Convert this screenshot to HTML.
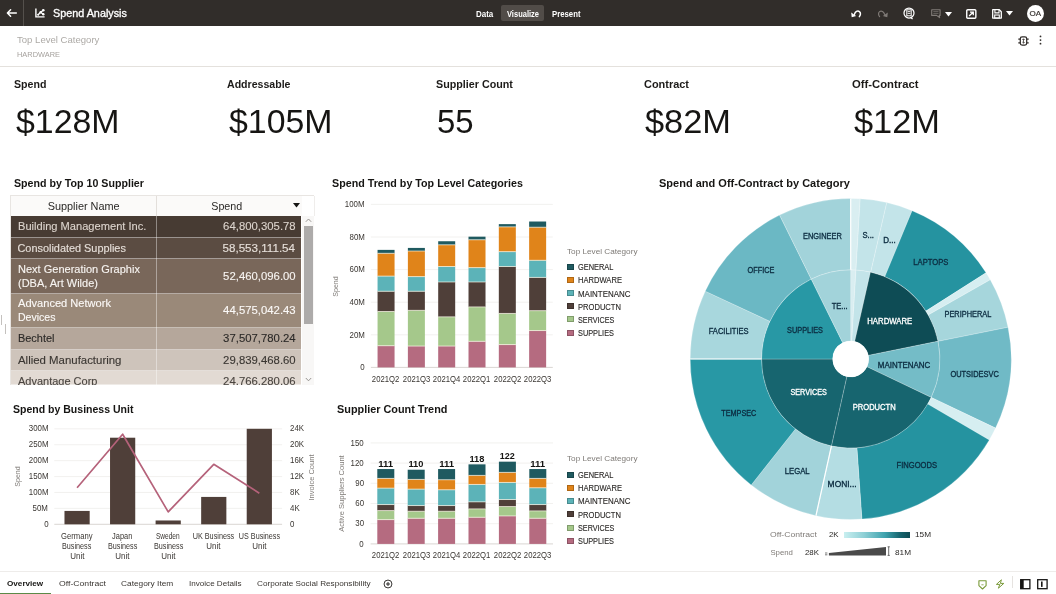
<!DOCTYPE html>
<html lang="en"><head><meta charset="utf-8"><title>Spend Analysis</title>
<style>
html,body{margin:0;padding:0;}
body{width:1056px;height:594px;overflow:hidden;background:#fff;position:relative;font-family:"Liberation Sans",sans-serif;}
.t{position:absolute;white-space:nowrap;display:block;}
.abs{position:absolute;}
svg{position:absolute;overflow:visible;}
#app{position:absolute;left:0;top:0;width:1056px;height:594px;will-change:transform;}
</style></head><body>
<div id="app">
<div class="abs" id="topbar" style="left:0;top:0;width:1056px;height:25.5px;background:#312d2a;"></div>
<div class="abs" style="left:22.7px;top:0;width:1.4px;height:25.5px;background:#54504c;"></div>
<svg style="left:6px;top:7.8px" width="11" height="10" viewBox="0 0 11 10"><path d="M10.3 5H1.8M4.6 1.8L1.4 5L4.6 8.2" fill="none" stroke="#fff" stroke-width="1.5" stroke-linecap="round" stroke-linejoin="round"/></svg>
<svg style="left:34.5px;top:8px" width="10" height="10" viewBox="0 0 10 10"><path d="M0.9 0.5V8.9H9.6" fill="none" stroke="#fff" stroke-width="1.4"/><path d="M2.9 7L5.6 4.2L8.3 2.2M5.6 4.2L8.3 6.3" fill="none" stroke="#fff" stroke-width="1.3"/><circle cx="8.3" cy="2.2" r="1.3" fill="#fff"/><circle cx="5.7" cy="4.2" r="1.25" fill="#fff"/><circle cx="8.3" cy="6.3" r="1.2" fill="#fff"/><circle cx="3.1" cy="6.8" r="1" fill="#fff"/></svg>
<span class="t" style="left:52.50px;transform-origin:0 50%;top:8px;font-size:10.2px;line-height:11px;color:#fff;transform:scaleX(1.0610);-webkit-text-stroke:0.3px #fff;">Spend Analysis</span>
<div class="abs" style="left:501px;top:5px;width:43px;height:15.5px;background:#514c48;border-radius:2px;"></div>
<span class="t" style="left:475.50px;transform-origin:0 50%;top:9px;font-size:8.3px;line-height:10px;color:#fff;font-weight:700;transform:scaleX(0.9616);">Data</span>
<span class="t" style="left:506.50px;transform-origin:0 50%;top:9px;font-size:8.3px;line-height:10px;color:#fff;font-weight:700;transform:scaleX(0.9046);">Visualize</span>
<span class="t" style="left:551.60px;transform-origin:0 50%;top:9px;font-size:8.3px;line-height:10px;color:#fff;font-weight:700;transform:scaleX(0.9360);">Present</span>
<svg style="left:850px;top:8px" width="12" height="11" viewBox="0 0 12 11"><path d="M4.4 6.4C5.2 3.6 7.6 2.2 9.4 3.6C11 4.9 10.6 7.2 9.4 8.6" fill="none" stroke="#fff" stroke-width="1.5" stroke-linecap="round"/><path d="M1.2 4.4L1.7 9.2L6.2 8Z" fill="#fff"/></svg>
<svg style="left:876.5px;top:8px" width="12" height="11" viewBox="0 0 12 11"><g transform="translate(12,0) scale(-1,1)"><path d="M4.4 6.4C5.2 3.6 7.6 2.2 9.4 3.6C11 4.9 10.6 7.2 9.4 8.6" fill="none" stroke="#807b77" stroke-width="1.2" stroke-linecap="round"/><path d="M1.2 4.4L1.7 9.2L6.2 8Z" fill="#807b77"/></g></svg>
<svg style="left:902.2px;top:6.1px" width="14" height="14" viewBox="0 0 14 14"><circle cx="7" cy="7" r="5" fill="none" stroke="#fff" stroke-width="1.25"/><rect x="4.8" y="3.8" width="4.4" height="6" fill="none" stroke="#fff" stroke-width="1"/><path d="M5.6 5.6H8.4M5.6 7.4H8.4" stroke="#fff" stroke-width="0.9"/><path d="M8.6 11.4L10.6 12.9" stroke="#fff" stroke-width="1.2"/></svg>
<svg style="left:930.5px;top:9px" width="10" height="10" viewBox="0 0 10 10"><path d="M0.7 0.7H9.1V6.4H8.2L8.6 8.6L5.6 6.4H0.7Z" fill="none" stroke="#807b77" stroke-width="1.1" stroke-linejoin="round"/><path d="M2.3 2.6H7.5M2.3 4.4H7.5" stroke="#807b77" stroke-width="0.7"/></svg>
<svg style="left:944.5px;top:11.5px" width="7" height="5" viewBox="0 0 7 5"><path d="M0 0H7L3.5 4.6Z" fill="#fff"/></svg>
<svg style="left:965.8px;top:8.5px" width="10.6" height="10" viewBox="0 0 10.6 10"><rect x="0.75" y="0.75" width="9.1" height="8.5" rx="1" fill="none" stroke="#fff" stroke-width="1.4"/><path d="M3.1 7L7.1 3.2M4 3.1H7.3V6.2" fill="none" stroke="#fff" stroke-width="1.3"/></svg>
<svg style="left:992.4px;top:8.7px" width="10" height="10" viewBox="0 0 10 10"><path d="M0.7 0.7H7.3L9.3 2.7V9.1H0.7Z" fill="none" stroke="#fff" stroke-width="1.3" stroke-linejoin="round"/><path d="M2.9 0.9V3.9H7V0.9" fill="none" stroke="#fff" stroke-width="1.1"/><rect x="2.7" y="6" width="4.6" height="3" fill="none" stroke="#fff" stroke-width="1.1"/></svg>
<svg style="left:1006.3px;top:11.2px" width="7" height="5" viewBox="0 0 7 5"><path d="M0 0H7L3.5 4.6Z" fill="#fff"/></svg>
<div class="abs" style="left:1026.6px;top:4.9px;width:17.4px;height:17.4px;border-radius:50%;background:#fff;"></div>
<span class="t" style="left:1030.10px;transform-origin:50% 50%;top:9px;font-size:7.2px;line-height:9px;color:#312d2a;transform:scaleX(1.1151);-webkit-text-stroke:0.15px #312d2a;">OA</span>
<div class="abs" style="left:0;top:66px;width:1056px;height:1px;background:#e4e1dd;"></div>
<span class="t" style="left:17.00px;transform-origin:0 50%;top:35px;font-size:9.2px;line-height:10px;color:#adaaa6;transform:scaleX(1.0407);">Top Level Category</span>
<span class="t" style="left:17.00px;transform-origin:0 50%;top:50px;font-size:7.6px;line-height:9px;color:#a5a19d;transform:scaleX(0.9761);">HARDWARE</span>
<svg style="left:1018.2px;top:35.6px" width="11" height="10" viewBox="0 0 11 10"><rect x="2.3" y="0.9" width="6.4" height="8.2" rx="1.8" fill="none" stroke="#312d2a" stroke-width="1.25"/><path d="M0.3 3.2H2.3M0.3 6.8H2.3M8.7 3.2H10.7M8.7 6.8H10.7" stroke="#312d2a" stroke-width="1.2"/><path d="M5.5 2.8V7.2M4.3 4L5.5 2.8L6.7 4M4.3 6L5.5 7.2L6.7 6" fill="none" stroke="#312d2a" stroke-width="0.75"/></svg>
<svg style="left:1039.4px;top:35px" width="3" height="10" viewBox="0 0 3 10"><circle cx="1.5" cy="1.4" r="0.9" fill="#312d2a"/><circle cx="1.5" cy="5.1" r="0.9" fill="#312d2a"/><circle cx="1.5" cy="8.7" r="0.9" fill="#312d2a"/></svg>
<span class="t" style="left:13.50px;transform-origin:0 50%;top:79px;font-size:10.4px;line-height:11px;color:#1d1b19;font-weight:700;transform:scaleX(1.0227);">Spend</span>
<span class="t" style="left:16.00px;transform-origin:0 50%;top:104px;font-size:32.4px;line-height:36px;color:#161513;transform:scaleX(1.0447);">$128M</span>
<span class="t" style="left:226.50px;transform-origin:0 50%;top:79px;font-size:10.4px;line-height:11px;color:#1d1b19;font-weight:700;transform:scaleX(1.0172);">Addressable</span>
<span class="t" style="left:229.00px;transform-origin:0 50%;top:104px;font-size:32.4px;line-height:36px;color:#161513;transform:scaleX(1.0447);">$105M</span>
<span class="t" style="left:435.50px;transform-origin:0 50%;top:79px;font-size:10.4px;line-height:11px;color:#1d1b19;font-weight:700;transform:scaleX(1.0332);">Supplier Count</span>
<span class="t" style="left:436.70px;transform-origin:0 50%;top:104px;font-size:32.4px;line-height:36px;color:#161513;transform:scaleX(1.0155);">55</span>
<span class="t" style="left:643.50px;transform-origin:0 50%;top:79px;font-size:10.4px;line-height:11px;color:#1d1b19;font-weight:700;transform:scaleX(1.0524);">Contract</span>
<span class="t" style="left:645.00px;transform-origin:0 50%;top:104px;font-size:32.4px;line-height:36px;color:#161513;transform:scaleX(1.0611);">$82M</span>
<span class="t" style="left:852.00px;transform-origin:0 50%;top:79px;font-size:10.4px;line-height:11px;color:#1d1b19;font-weight:700;transform:scaleX(1.0859);">Off-Contract</span>
<span class="t" style="left:854.00px;transform-origin:0 50%;top:104px;font-size:32.4px;line-height:36px;color:#161513;transform:scaleX(1.0611);">$12M</span>
<span class="t" style="left:13.70px;transform-origin:0 50%;top:177px;font-size:10.6px;line-height:12px;color:#161513;font-weight:700;transform:scaleX(1.0048);">Spend by Top 10 Supplier</span>
<span class="t" style="left:331.60px;transform-origin:0 50%;top:177px;font-size:10.6px;line-height:12px;color:#161513;font-weight:700;transform:scaleX(1.0112);">Spend Trend by Top Level Categories</span>
<span class="t" style="left:658.50px;transform-origin:0 50%;top:177px;font-size:10.6px;line-height:12px;color:#161513;font-weight:700;transform:scaleX(1.0395);">Spend and Off-Contract by Category</span>
<span class="t" style="left:13.40px;transform-origin:0 50%;top:403px;font-size:10.6px;line-height:12px;color:#161513;font-weight:700;transform:scaleX(0.9931);">Spend by Business Unit</span>
<span class="t" style="left:337.40px;transform-origin:0 50%;top:403px;font-size:10.6px;line-height:12px;color:#161513;font-weight:700;transform:scaleX(1.0253);">Supplier Count Trend</span>
<div class="abs" style="left:10px;top:195px;width:303.5px;height:21px;background:#fbfaf9;border-top:1px solid #e8e5e2;border-left:1px solid #e8e5e2;box-sizing:border-box;"></div>
<div class="abs" style="left:156px;top:196px;width:1px;height:20px;background:#e3dfdb;"></div>
<div class="abs" style="left:302px;top:196px;width:11.5px;height:20px;background:#fff;border-right:1px solid #efedeb;"></div>
<div class="abs" style="left:10px;top:195px;width:1px;height:190px;background:#e8e5e2;"></div>
<span class="t" style="left:47.65px;transform-origin:50% 50%;top:200px;font-size:10.9px;line-height:12px;color:#2b2927;">Supplier Name</span>
<span class="t" style="left:211.04px;transform-origin:50% 50%;top:200px;font-size:10.9px;line-height:12px;color:#2b2927;transform:scaleX(0.9835);">Spend</span>
<svg style="left:292.8px;top:203.2px" width="7" height="4.6" viewBox="0 0 7 4.6"><path d="M0 0H7L3.5 4.4Z" fill="#161513"/></svg>
<div class="abs" style="left:11px;top:216px;width:290px;height:169px;overflow:hidden;" id="tbl">
<div class="abs" style="left:0;top:0px;width:290px;height:22px;background:#473b33;border-bottom:1px solid rgba(255,255,255,0.45);box-sizing:border-box;"></div>
<div class="abs" style="left:0;top:22px;width:290px;height:21px;background:#5b4c42;border-bottom:1px solid rgba(255,255,255,0.45);box-sizing:border-box;"></div>
<div class="abs" style="left:0;top:43px;width:290px;height:35px;background:#79675a;border-bottom:1px solid rgba(255,255,255,0.45);box-sizing:border-box;"></div>
<div class="abs" style="left:0;top:78px;width:290px;height:34px;background:#9a8979;border-bottom:1px solid rgba(255,255,255,0.45);box-sizing:border-box;"></div>
<div class="abs" style="left:0;top:112px;width:290px;height:22px;background:#b5a79b;border-bottom:1px solid rgba(255,255,255,0.45);box-sizing:border-box;"></div>
<div class="abs" style="left:0;top:134px;width:290px;height:21px;background:#cec4bb;border-bottom:1px solid rgba(255,255,255,0.45);box-sizing:border-box;"></div>
<div class="abs" style="left:0;top:155px;width:290px;height:14px;background:#e2dad3;border-bottom:1px solid rgba(255,255,255,0.45);box-sizing:border-box;"></div>
<div class="abs" style="left:145px;top:0;width:1px;height:169px;background:rgba(255,255,255,0.4);"></div>
</div>
<div class="abs" style="left:0;top:0;width:1056px;height:384.5px;overflow:hidden;pointer-events:none;">
<span class="t" style="left:17.50px;transform-origin:0 50%;top:220px;font-size:10.9px;line-height:12px;color:#dcd4cd;transform:scaleX(1.0196);-webkit-text-stroke:0.12px #dcd4cd;">Building Management Inc.</span>
<span class="t" style="right:760.70px;transform-origin:100% 50%;top:220px;font-size:10.9px;line-height:12px;color:#dcd4cd;transform:scaleX(1.0415);-webkit-text-stroke:0.12px #dcd4cd;">64,800,305.78</span>
<span class="t" style="left:17.50px;transform-origin:0 50%;top:242px;font-size:10.9px;line-height:12px;color:#e6dfd9;-webkit-text-stroke:0.12px #e6dfd9;">Consolidated Supplies</span>
<span class="t" style="right:760.70px;transform-origin:100% 50%;top:242px;font-size:10.9px;line-height:12px;color:#e6dfd9;transform:scaleX(1.0662);-webkit-text-stroke:0.12px #e6dfd9;">58,553,111.54</span>
<span class="t" style="left:17.50px;transform-origin:0 50%;top:263px;font-size:10.9px;line-height:12px;color:#f7f4f1;transform:scaleX(1.0119);-webkit-text-stroke:0.12px #f7f4f1;">Next Generation Graphix</span>
<span class="t" style="left:17.50px;transform-origin:0 50%;top:277px;font-size:10.9px;line-height:12px;color:#f7f4f1;transform:scaleX(1.0083);-webkit-text-stroke:0.12px #f7f4f1;">(DBA, Art Wilde)</span>
<span class="t" style="right:760.70px;transform-origin:100% 50%;top:270px;font-size:10.9px;line-height:12px;color:#f7f4f1;transform:scaleX(1.0415);-webkit-text-stroke:0.12px #f7f4f1;">52,460,096.00</span>
<span class="t" style="left:17.50px;transform-origin:0 50%;top:297px;font-size:10.9px;line-height:12px;color:#fbf9f7;transform:scaleX(1.0165);-webkit-text-stroke:0.12px #fbf9f7;">Advanced Network</span>
<span class="t" style="left:17.50px;transform-origin:0 50%;top:311px;font-size:10.9px;line-height:12px;color:#fbf9f7;transform:scaleX(0.9673);-webkit-text-stroke:0.12px #fbf9f7;">Devices</span>
<span class="t" style="right:760.70px;transform-origin:100% 50%;top:304px;font-size:10.9px;line-height:12px;color:#fbf9f7;transform:scaleX(1.0415);-webkit-text-stroke:0.12px #fbf9f7;">44,575,042.43</span>
<span class="t" style="left:17.50px;transform-origin:0 50%;top:332px;font-size:10.9px;line-height:12px;color:#2b2927;transform:scaleX(1.0039);-webkit-text-stroke:0.12px #2b2927;">Bechtel</span>
<span class="t" style="right:760.70px;transform-origin:100% 50%;top:332px;font-size:10.9px;line-height:12px;color:#2b2927;transform:scaleX(1.0415);-webkit-text-stroke:0.12px #2b2927;">37,507,780.24</span>
<span class="t" style="left:17.50px;transform-origin:0 50%;top:354px;font-size:10.9px;line-height:12px;color:#3a3632;transform:scaleX(1.0480);-webkit-text-stroke:0.12px #3a3632;">Allied Manufacturing</span>
<span class="t" style="right:760.70px;transform-origin:100% 50%;top:354px;font-size:10.9px;line-height:12px;color:#3a3632;transform:scaleX(1.0415);-webkit-text-stroke:0.12px #3a3632;">29,839,468.60</span>
<span class="t" style="left:17.50px;transform-origin:0 50%;top:375px;font-size:10.9px;line-height:12px;color:#4a4540;transform:scaleX(1.0092);-webkit-text-stroke:0.12px #4a4540;">Advantage Corp</span>
<span class="t" style="right:760.70px;transform-origin:100% 50%;top:375px;font-size:10.9px;line-height:12px;color:#4a4540;transform:scaleX(1.0415);-webkit-text-stroke:0.12px #4a4540;">24,766,280.06</span>
</div>
<div class="abs" style="left:302px;top:216px;width:11.5px;height:169px;background:#f8f7f6;"></div>
<div class="abs" style="left:304.2px;top:226px;width:9px;height:97.8px;background:#adabaa;"></div>
<svg style="left:305.2px;top:217.8px" width="7" height="5" viewBox="0 0 7 5"><path d="M0.8 3.8L3.5 1L6.2 3.8" fill="none" stroke="#8c8986" stroke-width="0.9"/></svg>
<svg style="left:305.2px;top:377px" width="7" height="5" viewBox="0 0 7 5"><path d="M0.8 1L3.5 3.8L6.2 1" fill="none" stroke="#8c8986" stroke-width="0.9"/></svg>
<div class="abs" style="left:1.1px;top:315.2px;width:0.9px;height:9.8px;background:#c4c1be;"></div>
<div class="abs" style="left:4.5px;top:324.2px;width:0.9px;height:9.8px;background:#c4c1be;"></div>
<svg style="left:0;top:0" width="1056" height="594" viewBox="0 0 1056 594">
<line x1="370.9" x2="552.8" y1="367.40" y2="367.40" stroke="#cfcbc7" stroke-width="0.8"/>
<line x1="370.9" x2="552.8" y1="334.80" y2="334.80" stroke="#efedeb" stroke-width="0.8"/>
<line x1="370.9" x2="552.8" y1="302.20" y2="302.20" stroke="#efedeb" stroke-width="0.8"/>
<line x1="370.9" x2="552.8" y1="269.60" y2="269.60" stroke="#efedeb" stroke-width="0.8"/>
<line x1="370.9" x2="552.8" y1="237.00" y2="237.00" stroke="#efedeb" stroke-width="0.8"/>
<line x1="370.9" x2="552.8" y1="204.40" y2="204.40" stroke="#efedeb" stroke-width="0.8"/>
<rect x="377.56" y="345.72" width="17.0" height="21.68" fill="#b56b80"/>
<rect x="377.56" y="311.49" width="17.0" height="34.23" fill="#a5c88b"/>
<line x1="377.56" x2="394.56" y1="345.72" y2="345.72" stroke="rgba(255,250,235,0.72)" stroke-width="0.9"/>
<rect x="377.56" y="291.28" width="17.0" height="20.21" fill="#4f3f39"/>
<line x1="377.56" x2="394.56" y1="311.49" y2="311.49" stroke="rgba(255,250,235,0.72)" stroke-width="0.9"/>
<rect x="377.56" y="276.12" width="17.0" height="15.16" fill="#5cb3b8"/>
<line x1="377.56" x2="394.56" y1="291.28" y2="291.28" stroke="rgba(255,250,235,0.72)" stroke-width="0.9"/>
<rect x="377.56" y="253.30" width="17.0" height="22.82" fill="#e0841a"/>
<line x1="377.56" x2="394.56" y1="276.12" y2="276.12" stroke="rgba(255,250,235,0.72)" stroke-width="0.9"/>
<rect x="377.56" y="249.88" width="17.0" height="3.42" fill="#1f5a60"/>
<line x1="377.56" x2="394.56" y1="253.30" y2="253.30" stroke="rgba(255,250,235,0.72)" stroke-width="0.9"/>
<rect x="407.88" y="346.05" width="17.0" height="21.35" fill="#b56b80"/>
<rect x="407.88" y="310.35" width="17.0" height="35.70" fill="#a5c88b"/>
<line x1="407.88" x2="424.88" y1="346.05" y2="346.05" stroke="rgba(255,250,235,0.72)" stroke-width="0.9"/>
<rect x="407.88" y="291.28" width="17.0" height="19.07" fill="#4f3f39"/>
<line x1="407.88" x2="424.88" y1="310.35" y2="310.35" stroke="rgba(255,250,235,0.72)" stroke-width="0.9"/>
<rect x="407.88" y="276.61" width="17.0" height="14.67" fill="#5cb3b8"/>
<line x1="407.88" x2="424.88" y1="291.28" y2="291.28" stroke="rgba(255,250,235,0.72)" stroke-width="0.9"/>
<rect x="407.88" y="251.02" width="17.0" height="25.59" fill="#e0841a"/>
<line x1="407.88" x2="424.88" y1="276.61" y2="276.61" stroke="rgba(255,250,235,0.72)" stroke-width="0.9"/>
<rect x="407.88" y="247.92" width="17.0" height="3.10" fill="#1f5a60"/>
<line x1="407.88" x2="424.88" y1="251.02" y2="251.02" stroke="rgba(255,250,235,0.72)" stroke-width="0.9"/>
<rect x="438.19" y="346.05" width="17.0" height="21.35" fill="#b56b80"/>
<rect x="438.19" y="316.87" width="17.0" height="29.18" fill="#a5c88b"/>
<line x1="438.19" x2="455.19" y1="346.05" y2="346.05" stroke="rgba(255,250,235,0.72)" stroke-width="0.9"/>
<rect x="438.19" y="281.99" width="17.0" height="34.88" fill="#4f3f39"/>
<line x1="438.19" x2="455.19" y1="316.87" y2="316.87" stroke="rgba(255,250,235,0.72)" stroke-width="0.9"/>
<rect x="438.19" y="266.50" width="17.0" height="15.49" fill="#5cb3b8"/>
<line x1="438.19" x2="455.19" y1="281.99" y2="281.99" stroke="rgba(255,250,235,0.72)" stroke-width="0.9"/>
<rect x="438.19" y="244.82" width="17.0" height="21.68" fill="#e0841a"/>
<line x1="438.19" x2="455.19" y1="266.50" y2="266.50" stroke="rgba(255,250,235,0.72)" stroke-width="0.9"/>
<rect x="438.19" y="241.24" width="17.0" height="3.59" fill="#1f5a60"/>
<line x1="438.19" x2="455.19" y1="244.82" y2="244.82" stroke="rgba(255,250,235,0.72)" stroke-width="0.9"/>
<rect x="468.51" y="341.32" width="17.0" height="26.08" fill="#b56b80"/>
<rect x="468.51" y="306.93" width="17.0" height="34.39" fill="#a5c88b"/>
<line x1="468.51" x2="485.51" y1="341.32" y2="341.32" stroke="rgba(255,250,235,0.72)" stroke-width="0.9"/>
<rect x="468.51" y="281.99" width="17.0" height="24.94" fill="#4f3f39"/>
<line x1="468.51" x2="485.51" y1="306.93" y2="306.93" stroke="rgba(255,250,235,0.72)" stroke-width="0.9"/>
<rect x="468.51" y="267.64" width="17.0" height="14.34" fill="#5cb3b8"/>
<line x1="468.51" x2="485.51" y1="281.99" y2="281.99" stroke="rgba(255,250,235,0.72)" stroke-width="0.9"/>
<rect x="468.51" y="239.77" width="17.0" height="27.87" fill="#e0841a"/>
<line x1="468.51" x2="485.51" y1="267.64" y2="267.64" stroke="rgba(255,250,235,0.72)" stroke-width="0.9"/>
<rect x="468.51" y="236.67" width="17.0" height="3.10" fill="#1f5a60"/>
<line x1="468.51" x2="485.51" y1="239.77" y2="239.77" stroke="rgba(255,250,235,0.72)" stroke-width="0.9"/>
<rect x="498.82" y="344.58" width="17.0" height="22.82" fill="#b56b80"/>
<rect x="498.82" y="313.45" width="17.0" height="31.13" fill="#a5c88b"/>
<line x1="498.82" x2="515.82" y1="344.58" y2="344.58" stroke="rgba(255,250,235,0.72)" stroke-width="0.9"/>
<rect x="498.82" y="266.50" width="17.0" height="46.94" fill="#4f3f39"/>
<line x1="498.82" x2="515.82" y1="313.45" y2="313.45" stroke="rgba(255,250,235,0.72)" stroke-width="0.9"/>
<rect x="498.82" y="251.67" width="17.0" height="14.83" fill="#5cb3b8"/>
<line x1="498.82" x2="515.82" y1="266.50" y2="266.50" stroke="rgba(255,250,235,0.72)" stroke-width="0.9"/>
<rect x="498.82" y="226.89" width="17.0" height="24.78" fill="#e0841a"/>
<line x1="498.82" x2="515.82" y1="251.67" y2="251.67" stroke="rgba(255,250,235,0.72)" stroke-width="0.9"/>
<rect x="498.82" y="224.12" width="17.0" height="2.77" fill="#1f5a60"/>
<line x1="498.82" x2="515.82" y1="226.89" y2="226.89" stroke="rgba(255,250,235,0.72)" stroke-width="0.9"/>
<rect x="529.14" y="330.56" width="17.0" height="36.84" fill="#b56b80"/>
<rect x="529.14" y="310.68" width="17.0" height="19.89" fill="#a5c88b"/>
<line x1="529.14" x2="546.14" y1="330.56" y2="330.56" stroke="rgba(255,250,235,0.72)" stroke-width="0.9"/>
<rect x="529.14" y="277.42" width="17.0" height="33.25" fill="#4f3f39"/>
<line x1="529.14" x2="546.14" y1="310.68" y2="310.68" stroke="rgba(255,250,235,0.72)" stroke-width="0.9"/>
<rect x="529.14" y="260.31" width="17.0" height="17.12" fill="#5cb3b8"/>
<line x1="529.14" x2="546.14" y1="277.42" y2="277.42" stroke="rgba(255,250,235,0.72)" stroke-width="0.9"/>
<rect x="529.14" y="227.22" width="17.0" height="33.09" fill="#e0841a"/>
<line x1="529.14" x2="546.14" y1="260.31" y2="260.31" stroke="rgba(255,250,235,0.72)" stroke-width="0.9"/>
<rect x="529.14" y="221.51" width="17.0" height="5.71" fill="#1f5a60"/>
<line x1="529.14" x2="546.14" y1="227.22" y2="227.22" stroke="rgba(255,250,235,0.72)" stroke-width="0.9"/>
</svg>
<span class="t" style="right:691.10px;transform-origin:100% 50%;top:363px;font-size:8.2px;line-height:9px;color:#3a3632;transform:scaleX(0.9639);">0</span>
<span class="t" style="right:691.10px;transform-origin:100% 50%;top:331px;font-size:8.2px;line-height:9px;color:#3a3632;transform:scaleX(0.9639);">20M</span>
<span class="t" style="right:691.10px;transform-origin:100% 50%;top:298px;font-size:8.2px;line-height:9px;color:#3a3632;transform:scaleX(0.9639);">40M</span>
<span class="t" style="right:691.10px;transform-origin:100% 50%;top:265px;font-size:8.2px;line-height:9px;color:#3a3632;transform:scaleX(0.9639);">60M</span>
<span class="t" style="right:691.10px;transform-origin:100% 50%;top:233px;font-size:8.2px;line-height:9px;color:#3a3632;transform:scaleX(0.9639);">80M</span>
<span class="t" style="right:691.10px;transform-origin:100% 50%;top:200px;font-size:8.2px;line-height:9px;color:#3a3632;transform:scaleX(0.9639);">100M</span>
<span class="t" style="left:371.47px;transform-origin:50% 50%;top:375px;font-size:8.2px;line-height:9px;color:#3a3632;transform:scaleX(0.9424);">2021Q2</span>
<span class="t" style="left:401.78px;transform-origin:50% 50%;top:375px;font-size:8.2px;line-height:9px;color:#3a3632;transform:scaleX(0.9424);">2021Q3</span>
<span class="t" style="left:432.10px;transform-origin:50% 50%;top:375px;font-size:8.2px;line-height:9px;color:#3a3632;transform:scaleX(0.9424);">2021Q4</span>
<span class="t" style="left:462.42px;transform-origin:50% 50%;top:375px;font-size:8.2px;line-height:9px;color:#3a3632;transform:scaleX(0.9424);">2022Q1</span>
<span class="t" style="left:492.73px;transform-origin:50% 50%;top:375px;font-size:8.2px;line-height:9px;color:#3a3632;transform:scaleX(0.9424);">2022Q2</span>
<span class="t" style="left:523.05px;transform-origin:50% 50%;top:375px;font-size:8.2px;line-height:9px;color:#3a3632;transform:scaleX(0.9424);">2022Q3</span>
<span class="t" style="left:324.51px;transform-origin:50% 50%;top:282px;font-size:7.6px;line-height:9px;color:#7f7b77;transform:rotate(-90deg) scaleX(0.93);">Spend</span>
<svg style="left:0;top:0" width="1056" height="594" viewBox="0 0 1056 594">
<line x1="370.6" x2="553.0" y1="543.90" y2="543.90" stroke="#cfcbc7" stroke-width="0.8"/>
<line x1="370.6" x2="553.0" y1="523.70" y2="523.70" stroke="#efedeb" stroke-width="0.8"/>
<line x1="370.6" x2="553.0" y1="503.50" y2="503.50" stroke="#efedeb" stroke-width="0.8"/>
<line x1="370.6" x2="553.0" y1="483.30" y2="483.30" stroke="#efedeb" stroke-width="0.8"/>
<line x1="370.6" x2="553.0" y1="463.10" y2="463.10" stroke="#efedeb" stroke-width="0.8"/>
<line x1="370.6" x2="553.0" y1="442.90" y2="442.90" stroke="#efedeb" stroke-width="0.8"/>
<rect x="377.30" y="519.62" width="17.0" height="24.28" fill="#b56b80"/>
<rect x="377.30" y="510.58" width="17.0" height="9.05" fill="#a5c88b"/>
<line x1="377.30" x2="394.30" y1="519.62" y2="519.62" stroke="rgba(255,250,235,0.72)" stroke-width="0.9"/>
<rect x="377.30" y="504.55" width="17.0" height="6.03" fill="#4f3f39"/>
<line x1="377.30" x2="394.30" y1="510.58" y2="510.58" stroke="rgba(255,250,235,0.72)" stroke-width="0.9"/>
<rect x="377.30" y="488.13" width="17.0" height="16.42" fill="#5cb3b8"/>
<line x1="377.30" x2="394.30" y1="504.55" y2="504.55" stroke="rgba(255,250,235,0.72)" stroke-width="0.9"/>
<rect x="377.30" y="478.42" width="17.0" height="9.72" fill="#e0841a"/>
<line x1="377.30" x2="394.30" y1="488.13" y2="488.13" stroke="rgba(255,250,235,0.72)" stroke-width="0.9"/>
<rect x="377.30" y="469.04" width="17.0" height="9.38" fill="#1f5a60"/>
<line x1="377.30" x2="394.30" y1="478.42" y2="478.42" stroke="rgba(255,250,235,0.72)" stroke-width="0.9"/>
<rect x="407.70" y="518.28" width="17.0" height="25.62" fill="#b56b80"/>
<rect x="407.70" y="511.25" width="17.0" height="7.04" fill="#a5c88b"/>
<line x1="407.70" x2="424.70" y1="518.28" y2="518.28" stroke="rgba(255,250,235,0.72)" stroke-width="0.9"/>
<rect x="407.70" y="505.55" width="17.0" height="5.70" fill="#4f3f39"/>
<line x1="407.70" x2="424.70" y1="511.25" y2="511.25" stroke="rgba(255,250,235,0.72)" stroke-width="0.9"/>
<rect x="407.70" y="489.14" width="17.0" height="16.42" fill="#5cb3b8"/>
<line x1="407.70" x2="424.70" y1="505.55" y2="505.55" stroke="rgba(255,250,235,0.72)" stroke-width="0.9"/>
<rect x="407.70" y="479.42" width="17.0" height="9.72" fill="#e0841a"/>
<line x1="407.70" x2="424.70" y1="489.14" y2="489.14" stroke="rgba(255,250,235,0.72)" stroke-width="0.9"/>
<rect x="407.70" y="469.71" width="17.0" height="9.72" fill="#1f5a60"/>
<line x1="407.70" x2="424.70" y1="479.42" y2="479.42" stroke="rgba(255,250,235,0.72)" stroke-width="0.9"/>
<rect x="438.10" y="518.28" width="17.0" height="25.62" fill="#b56b80"/>
<rect x="438.10" y="511.25" width="17.0" height="7.04" fill="#a5c88b"/>
<line x1="438.10" x2="455.10" y1="518.28" y2="518.28" stroke="rgba(255,250,235,0.72)" stroke-width="0.9"/>
<rect x="438.10" y="505.55" width="17.0" height="5.70" fill="#4f3f39"/>
<line x1="438.10" x2="455.10" y1="511.25" y2="511.25" stroke="rgba(255,250,235,0.72)" stroke-width="0.9"/>
<rect x="438.10" y="489.81" width="17.0" height="15.75" fill="#5cb3b8"/>
<line x1="438.10" x2="455.10" y1="505.55" y2="505.55" stroke="rgba(255,250,235,0.72)" stroke-width="0.9"/>
<rect x="438.10" y="479.76" width="17.0" height="10.05" fill="#e0841a"/>
<line x1="438.10" x2="455.10" y1="489.81" y2="489.81" stroke="rgba(255,250,235,0.72)" stroke-width="0.9"/>
<rect x="438.10" y="469.04" width="17.0" height="10.72" fill="#1f5a60"/>
<line x1="438.10" x2="455.10" y1="479.76" y2="479.76" stroke="rgba(255,250,235,0.72)" stroke-width="0.9"/>
<rect x="468.50" y="517.28" width="17.0" height="26.62" fill="#b56b80"/>
<rect x="468.50" y="508.90" width="17.0" height="8.38" fill="#a5c88b"/>
<line x1="468.50" x2="485.50" y1="517.28" y2="517.28" stroke="rgba(255,250,235,0.72)" stroke-width="0.9"/>
<rect x="468.50" y="501.87" width="17.0" height="7.04" fill="#4f3f39"/>
<line x1="468.50" x2="485.50" y1="508.90" y2="508.90" stroke="rgba(255,250,235,0.72)" stroke-width="0.9"/>
<rect x="468.50" y="484.45" width="17.0" height="17.42" fill="#5cb3b8"/>
<line x1="468.50" x2="485.50" y1="501.87" y2="501.87" stroke="rgba(255,250,235,0.72)" stroke-width="0.9"/>
<rect x="468.50" y="475.40" width="17.0" height="9.05" fill="#e0841a"/>
<line x1="468.50" x2="485.50" y1="484.45" y2="484.45" stroke="rgba(255,250,235,0.72)" stroke-width="0.9"/>
<rect x="468.50" y="464.35" width="17.0" height="11.06" fill="#1f5a60"/>
<line x1="468.50" x2="485.50" y1="475.40" y2="475.40" stroke="rgba(255,250,235,0.72)" stroke-width="0.9"/>
<rect x="498.90" y="515.94" width="17.0" height="27.96" fill="#b56b80"/>
<rect x="498.90" y="506.56" width="17.0" height="9.38" fill="#a5c88b"/>
<line x1="498.90" x2="515.90" y1="515.94" y2="515.94" stroke="rgba(255,250,235,0.72)" stroke-width="0.9"/>
<rect x="498.90" y="499.52" width="17.0" height="7.04" fill="#4f3f39"/>
<line x1="498.90" x2="515.90" y1="506.56" y2="506.56" stroke="rgba(255,250,235,0.72)" stroke-width="0.9"/>
<rect x="498.90" y="482.44" width="17.0" height="17.09" fill="#5cb3b8"/>
<line x1="498.90" x2="515.90" y1="499.52" y2="499.52" stroke="rgba(255,250,235,0.72)" stroke-width="0.9"/>
<rect x="498.90" y="472.39" width="17.0" height="10.05" fill="#e0841a"/>
<line x1="498.90" x2="515.90" y1="482.44" y2="482.44" stroke="rgba(255,250,235,0.72)" stroke-width="0.9"/>
<rect x="498.90" y="461.67" width="17.0" height="10.72" fill="#1f5a60"/>
<line x1="498.90" x2="515.90" y1="472.39" y2="472.39" stroke="rgba(255,250,235,0.72)" stroke-width="0.9"/>
<rect x="529.30" y="518.28" width="17.0" height="25.62" fill="#b56b80"/>
<rect x="529.30" y="510.91" width="17.0" height="7.37" fill="#a5c88b"/>
<line x1="529.30" x2="546.30" y1="518.28" y2="518.28" stroke="rgba(255,250,235,0.72)" stroke-width="0.9"/>
<rect x="529.30" y="504.55" width="17.0" height="6.37" fill="#4f3f39"/>
<line x1="529.30" x2="546.30" y1="510.91" y2="510.91" stroke="rgba(255,250,235,0.72)" stroke-width="0.9"/>
<rect x="529.30" y="487.80" width="17.0" height="16.75" fill="#5cb3b8"/>
<line x1="529.30" x2="546.30" y1="504.55" y2="504.55" stroke="rgba(255,250,235,0.72)" stroke-width="0.9"/>
<rect x="529.30" y="478.42" width="17.0" height="9.38" fill="#e0841a"/>
<line x1="529.30" x2="546.30" y1="487.80" y2="487.80" stroke="rgba(255,250,235,0.72)" stroke-width="0.9"/>
<rect x="529.30" y="469.04" width="17.0" height="9.38" fill="#1f5a60"/>
<line x1="529.30" x2="546.30" y1="478.42" y2="478.42" stroke="rgba(255,250,235,0.72)" stroke-width="0.9"/>
</svg>
<span class="t" style="right:692.20px;transform-origin:100% 50%;top:540px;font-size:8.2px;line-height:9px;color:#3a3632;transform:scaleX(0.9639);">0</span>
<span class="t" style="right:692.20px;transform-origin:100% 50%;top:519px;font-size:8.2px;line-height:9px;color:#3a3632;transform:scaleX(0.9639);">30</span>
<span class="t" style="right:692.20px;transform-origin:100% 50%;top:499px;font-size:8.2px;line-height:9px;color:#3a3632;transform:scaleX(0.9639);">60</span>
<span class="t" style="right:692.20px;transform-origin:100% 50%;top:479px;font-size:8.2px;line-height:9px;color:#3a3632;transform:scaleX(0.9639);">90</span>
<span class="t" style="right:692.20px;transform-origin:100% 50%;top:459px;font-size:8.2px;line-height:9px;color:#3a3632;transform:scaleX(0.9639);">120</span>
<span class="t" style="right:692.20px;transform-origin:100% 50%;top:439px;font-size:8.2px;line-height:9px;color:#3a3632;transform:scaleX(0.9639);">150</span>
<span class="t" style="left:371.21px;transform-origin:50% 50%;top:551px;font-size:8.2px;line-height:9px;color:#3a3632;transform:scaleX(0.9424);">2021Q2</span>
<span class="t" style="left:401.61px;transform-origin:50% 50%;top:551px;font-size:8.2px;line-height:9px;color:#3a3632;transform:scaleX(0.9424);">2021Q3</span>
<span class="t" style="left:432.01px;transform-origin:50% 50%;top:551px;font-size:8.2px;line-height:9px;color:#3a3632;transform:scaleX(0.9424);">2021Q4</span>
<span class="t" style="left:462.41px;transform-origin:50% 50%;top:551px;font-size:8.2px;line-height:9px;color:#3a3632;transform:scaleX(0.9424);">2022Q1</span>
<span class="t" style="left:492.81px;transform-origin:50% 50%;top:551px;font-size:8.2px;line-height:9px;color:#3a3632;transform:scaleX(0.9424);">2022Q2</span>
<span class="t" style="left:523.21px;transform-origin:50% 50%;top:551px;font-size:8.2px;line-height:9px;color:#3a3632;transform:scaleX(0.9424);">2022Q3</span>
<span class="t" style="left:303.36px;transform-origin:50% 50%;top:489px;font-size:7.6px;line-height:9px;color:#7f7b77;transform:rotate(-90deg) scaleX(0.995);">Active Suppliers Count</span>
<span class="t" style="left:379.10px;transform-origin:50% 50%;top:459px;font-size:8.6px;line-height:10px;color:#161513;font-weight:700;transform:scaleX(1.1194);">111</span>
<span class="t" style="left:409.26px;transform-origin:50% 50%;top:459px;font-size:8.6px;line-height:10px;color:#161513;font-weight:700;transform:scaleX(1.0811);">110</span>
<span class="t" style="left:439.90px;transform-origin:50% 50%;top:459px;font-size:8.6px;line-height:10px;color:#161513;font-weight:700;transform:scaleX(1.1194);">111</span>
<span class="t" style="left:470.06px;transform-origin:50% 50%;top:454px;font-size:8.6px;line-height:10px;color:#161513;font-weight:700;transform:scaleX(1.0811);">118</span>
<span class="t" style="left:500.23px;transform-origin:50% 50%;top:451px;font-size:8.6px;line-height:10px;color:#161513;font-weight:700;transform:scaleX(1.0454);">122</span>
<span class="t" style="left:531.10px;transform-origin:50% 50%;top:459px;font-size:8.6px;line-height:10px;color:#161513;font-weight:700;transform:scaleX(1.1194);">111</span>
<span class="t" style="left:567.00px;transform-origin:0 50%;top:247px;font-size:7.8px;line-height:9px;color:#7f7b77;transform:scaleX(1.0490);">Top Level Category</span>
<div class="abs" style="left:567px;top:264px;width:7px;height:6px;background:#1f5a60;box-shadow:inset 0 0 0 1px rgba(0,0,0,0.22);"></div>
<span class="t" style="left:578.20px;transform-origin:0 50%;top:263px;font-size:8.2px;line-height:9px;color:#2b2927;transform:scaleX(0.9058);-webkit-text-stroke:0.12px #2b2927;">GENERAL</span>
<div class="abs" style="left:567px;top:277px;width:7px;height:6px;background:#e0841a;box-shadow:inset 0 0 0 1px rgba(0,0,0,0.22);"></div>
<span class="t" style="left:578.20px;transform-origin:0 50%;top:276px;font-size:8.2px;line-height:9px;color:#2b2927;transform:scaleX(0.9257);-webkit-text-stroke:0.12px #2b2927;">HARDWARE</span>
<div class="abs" style="left:567px;top:290px;width:7px;height:6px;background:#5cb3b8;box-shadow:inset 0 0 0 1px rgba(0,0,0,0.22);"></div>
<span class="t" style="left:578.20px;transform-origin:0 50%;top:290px;font-size:8.2px;line-height:9px;color:#2b2927;transform:scaleX(0.9684);-webkit-text-stroke:0.12px #2b2927;">MAINTENANC</span>
<div class="abs" style="left:567px;top:303px;width:7px;height:6px;background:#4f3f39;box-shadow:inset 0 0 0 1px rgba(0,0,0,0.22);"></div>
<span class="t" style="left:578.20px;transform-origin:0 50%;top:303px;font-size:8.2px;line-height:9px;color:#2b2927;transform:scaleX(0.9254);-webkit-text-stroke:0.12px #2b2927;">PRODUCTN</span>
<div class="abs" style="left:567px;top:316px;width:7px;height:6px;background:#a5c88b;box-shadow:inset 0 0 0 1px rgba(0,0,0,0.22);"></div>
<span class="t" style="left:578.20px;transform-origin:0 50%;top:316px;font-size:8.2px;line-height:9px;color:#2b2927;transform:scaleX(0.8833);-webkit-text-stroke:0.12px #2b2927;">SERVICES</span>
<div class="abs" style="left:567px;top:330px;width:7px;height:6px;background:#b56b80;box-shadow:inset 0 0 0 1px rgba(0,0,0,0.22);"></div>
<span class="t" style="left:578.20px;transform-origin:0 50%;top:329px;font-size:8.2px;line-height:9px;color:#2b2927;transform:scaleX(0.8976);-webkit-text-stroke:0.12px #2b2927;">SUPPLIES</span>
<span class="t" style="left:567.00px;transform-origin:0 50%;top:454px;font-size:7.8px;line-height:9px;color:#7f7b77;transform:scaleX(1.0490);">Top Level Category</span>
<div class="abs" style="left:567px;top:472px;width:7px;height:6px;background:#1f5a60;box-shadow:inset 0 0 0 1px rgba(0,0,0,0.22);"></div>
<span class="t" style="left:578.20px;transform-origin:0 50%;top:471px;font-size:8.2px;line-height:9px;color:#2b2927;transform:scaleX(0.9058);-webkit-text-stroke:0.12px #2b2927;">GENERAL</span>
<div class="abs" style="left:567px;top:485px;width:7px;height:6px;background:#e0841a;box-shadow:inset 0 0 0 1px rgba(0,0,0,0.22);"></div>
<span class="t" style="left:578.20px;transform-origin:0 50%;top:484px;font-size:8.2px;line-height:9px;color:#2b2927;transform:scaleX(0.9257);-webkit-text-stroke:0.12px #2b2927;">HARDWARE</span>
<div class="abs" style="left:567px;top:498px;width:7px;height:6px;background:#5cb3b8;box-shadow:inset 0 0 0 1px rgba(0,0,0,0.22);"></div>
<span class="t" style="left:578.20px;transform-origin:0 50%;top:497px;font-size:8.2px;line-height:9px;color:#2b2927;transform:scaleX(0.9684);-webkit-text-stroke:0.12px #2b2927;">MAINTENANC</span>
<div class="abs" style="left:567px;top:511px;width:7px;height:6px;background:#4f3f39;box-shadow:inset 0 0 0 1px rgba(0,0,0,0.22);"></div>
<span class="t" style="left:578.20px;transform-origin:0 50%;top:511px;font-size:8.2px;line-height:9px;color:#2b2927;transform:scaleX(0.9254);-webkit-text-stroke:0.12px #2b2927;">PRODUCTN</span>
<div class="abs" style="left:567px;top:525px;width:7px;height:6px;background:#a5c88b;box-shadow:inset 0 0 0 1px rgba(0,0,0,0.22);"></div>
<span class="t" style="left:578.20px;transform-origin:0 50%;top:524px;font-size:8.2px;line-height:9px;color:#2b2927;transform:scaleX(0.8833);-webkit-text-stroke:0.12px #2b2927;">SERVICES</span>
<div class="abs" style="left:567px;top:538px;width:7px;height:6px;background:#b56b80;box-shadow:inset 0 0 0 1px rgba(0,0,0,0.22);"></div>
<span class="t" style="left:578.20px;transform-origin:0 50%;top:537px;font-size:8.2px;line-height:9px;color:#2b2927;transform:scaleX(0.8976);-webkit-text-stroke:0.12px #2b2927;">SUPPLIES</span>
<svg style="left:0;top:0" width="1056" height="594" viewBox="0 0 1056 594">
<line x1="54.3" x2="282.1" y1="524.30" y2="524.30" stroke="#cfcbc7" stroke-width="0.8"/>
<line x1="54.3" x2="282.1" y1="508.38" y2="508.38" stroke="#efedeb" stroke-width="0.8"/>
<line x1="54.3" x2="282.1" y1="492.47" y2="492.47" stroke="#efedeb" stroke-width="0.8"/>
<line x1="54.3" x2="282.1" y1="476.55" y2="476.55" stroke="#efedeb" stroke-width="0.8"/>
<line x1="54.3" x2="282.1" y1="460.63" y2="460.63" stroke="#efedeb" stroke-width="0.8"/>
<line x1="54.3" x2="282.1" y1="444.72" y2="444.72" stroke="#efedeb" stroke-width="0.8"/>
<line x1="54.3" x2="282.1" y1="428.80" y2="428.80" stroke="#efedeb" stroke-width="0.8"/>
<rect x="64.48" y="510.93" width="25.2" height="13.37" fill="#4f3f39"/>
<rect x="110.04" y="437.71" width="25.2" height="86.59" fill="#4f3f39"/>
<rect x="155.60" y="520.48" width="25.2" height="3.82" fill="#4f3f39"/>
<rect x="201.16" y="496.92" width="25.2" height="27.38" fill="#4f3f39"/>
<rect x="246.72" y="428.80" width="25.2" height="95.50" fill="#4f3f39"/>
<polyline points="77.08,487.8 122.64,434.2 168.20,511.9 213.76,464.3 259.32,493.2" fill="none" stroke="#b5627a" stroke-width="1.7" stroke-linejoin="round"/>
</svg>
<span class="t" style="right:1007.60px;transform-origin:100% 50%;top:520px;font-size:8.2px;line-height:9px;color:#3a3632;transform:scaleX(0.9639);">0</span>
<span class="t" style="right:1007.60px;transform-origin:100% 50%;top:504px;font-size:8.2px;line-height:9px;color:#3a3632;transform:scaleX(0.9639);">50M</span>
<span class="t" style="right:1007.60px;transform-origin:100% 50%;top:488px;font-size:8.2px;line-height:9px;color:#3a3632;transform:scaleX(0.9639);">100M</span>
<span class="t" style="right:1007.60px;transform-origin:100% 50%;top:472px;font-size:8.2px;line-height:9px;color:#3a3632;transform:scaleX(0.9639);">150M</span>
<span class="t" style="right:1007.60px;transform-origin:100% 50%;top:456px;font-size:8.2px;line-height:9px;color:#3a3632;transform:scaleX(0.9639);">200M</span>
<span class="t" style="right:1007.60px;transform-origin:100% 50%;top:440px;font-size:8.2px;line-height:9px;color:#3a3632;transform:scaleX(0.9639);">250M</span>
<span class="t" style="right:1007.60px;transform-origin:100% 50%;top:424px;font-size:8.2px;line-height:9px;color:#3a3632;transform:scaleX(0.9639);">300M</span>
<span class="t" style="left:289.80px;transform-origin:0 50%;top:520px;font-size:8.2px;line-height:9px;color:#3a3632;transform:scaleX(0.9639);">0</span>
<span class="t" style="left:289.80px;transform-origin:0 50%;top:504px;font-size:8.2px;line-height:9px;color:#3a3632;transform:scaleX(0.9639);">4K</span>
<span class="t" style="left:289.80px;transform-origin:0 50%;top:488px;font-size:8.2px;line-height:9px;color:#3a3632;transform:scaleX(0.9639);">8K</span>
<span class="t" style="left:289.80px;transform-origin:0 50%;top:472px;font-size:8.2px;line-height:9px;color:#3a3632;transform:scaleX(0.9639);">12K</span>
<span class="t" style="left:289.80px;transform-origin:0 50%;top:456px;font-size:8.2px;line-height:9px;color:#3a3632;transform:scaleX(0.9639);">16K</span>
<span class="t" style="left:289.80px;transform-origin:0 50%;top:440px;font-size:8.2px;line-height:9px;color:#3a3632;transform:scaleX(0.9639);">20K</span>
<span class="t" style="left:289.80px;transform-origin:0 50%;top:424px;font-size:8.2px;line-height:9px;color:#3a3632;transform:scaleX(0.9639);">24K</span>
<span class="t" style="left:7.41px;transform-origin:50% 50%;top:472px;font-size:7.6px;line-height:9px;color:#7f7b77;transform:rotate(-90deg) scaleX(0.93);">Spend</span>
<span class="t" style="left:288.26px;transform-origin:50% 50%;top:473px;font-size:7.6px;line-height:9px;color:#7f7b77;transform:rotate(-90deg) scaleX(0.99);">Invoice Count</span>
<span class="t" style="left:60.22px;transform-origin:50% 50%;top:532px;font-size:8.2px;line-height:9px;color:#3a3632;transform:scaleX(0.9341);">Germany</span>
<span class="t" style="left:60.44px;transform-origin:50% 50%;top:542px;font-size:8.2px;line-height:9px;color:#3a3632;transform:scaleX(0.8806);">Business</span>
<span class="t" style="left:69.79px;transform-origin:50% 50%;top:552px;font-size:8.2px;line-height:9px;color:#3a3632;transform:scaleX(0.9737);">Unit</span>
<span class="t" style="left:111.47px;transform-origin:50% 50%;top:532px;font-size:8.2px;line-height:9px;color:#3a3632;transform:scaleX(0.9086);">Japan</span>
<span class="t" style="left:106.00px;transform-origin:50% 50%;top:542px;font-size:8.2px;line-height:9px;color:#3a3632;transform:scaleX(0.8806);">Business</span>
<span class="t" style="left:115.35px;transform-origin:50% 50%;top:552px;font-size:8.2px;line-height:9px;color:#3a3632;transform:scaleX(0.9737);">Unit</span>
<span class="t" style="left:153.38px;transform-origin:50% 50%;top:532px;font-size:8.2px;line-height:9px;color:#3a3632;transform:scaleX(0.8031);">Sweden</span>
<span class="t" style="left:151.56px;transform-origin:50% 50%;top:542px;font-size:8.2px;line-height:9px;color:#3a3632;transform:scaleX(0.8806);">Business</span>
<span class="t" style="left:160.91px;transform-origin:50% 50%;top:552px;font-size:8.2px;line-height:9px;color:#3a3632;transform:scaleX(0.9737);">Unit</span>
<span class="t" style="left:190.29px;transform-origin:50% 50%;top:532px;font-size:8.2px;line-height:9px;color:#3a3632;transform:scaleX(0.8862);">UK Business</span>
<span class="t" style="left:206.47px;transform-origin:50% 50%;top:542px;font-size:8.2px;line-height:9px;color:#3a3632;transform:scaleX(0.9737);">Unit</span>
<span class="t" style="left:235.85px;transform-origin:50% 50%;top:532px;font-size:8.2px;line-height:9px;color:#3a3632;transform:scaleX(0.8798);">US Business</span>
<span class="t" style="left:252.03px;transform-origin:50% 50%;top:542px;font-size:8.2px;line-height:9px;color:#3a3632;transform:scaleX(0.9737);">Unit</span>
<svg style="left:0;top:0" width="1056" height="594" viewBox="0 0 1056 594">
<path d="M850.70 341.00L850.70 269.80A89.2 89.2 0 0 1 855.99 269.96L851.77 341.03A18.0 18.0 0 0 0 850.70 341.00Z" fill="#d9eef1" stroke="rgba(255,255,255,0.38)" stroke-width="0.6" stroke-linejoin="round"/>
<path d="M851.77 341.03L855.99 269.96A89.2 89.2 0 0 1 870.46 272.02L854.69 341.45A18.0 18.0 0 0 0 851.77 341.03Z" fill="#c3e4e9" stroke="rgba(255,255,255,0.38)" stroke-width="0.6" stroke-linejoin="round"/>
<path d="M854.69 341.45L870.46 272.02A89.2 89.2 0 0 1 938.11 341.22L868.34 355.41A18.0 18.0 0 0 0 854.69 341.45Z" fill="#0e4c55" stroke="rgba(255,255,255,0.38)" stroke-width="0.6" stroke-linejoin="round"/>
<path d="M868.34 355.41L938.11 341.22A89.2 89.2 0 0 1 931.21 397.40L866.95 366.75A18.0 18.0 0 0 0 868.34 355.41Z" fill="#74bcc7" stroke="rgba(255,255,255,0.38)" stroke-width="0.6" stroke-linejoin="round"/>
<path d="M866.95 366.75L931.21 397.40A89.2 89.2 0 0 1 831.39 446.09L846.80 376.57A18.0 18.0 0 0 0 866.95 366.75Z" fill="#17656f" stroke="rgba(255,255,255,0.38)" stroke-width="0.6" stroke-linejoin="round"/>
<path d="M846.80 376.57L831.39 446.09A89.2 89.2 0 0 1 761.50 359.00L832.70 359.00A18.0 18.0 0 0 0 846.80 376.57Z" fill="#17656f" stroke="rgba(255,255,255,0.38)" stroke-width="0.6" stroke-linejoin="round"/>
<path d="M832.70 359.00L761.50 359.00A89.2 89.2 0 0 1 811.18 279.03L842.72 342.86A18.0 18.0 0 0 0 832.70 359.00Z" fill="#2898a5" stroke="rgba(255,255,255,0.38)" stroke-width="0.6" stroke-linejoin="round"/>
<path d="M842.72 342.86L811.18 279.03A89.2 89.2 0 0 1 850.70 269.80L850.70 341.00A18.0 18.0 0 0 0 842.72 342.86Z" fill="#a2d3da" stroke="rgba(255,255,255,0.38)" stroke-width="0.6" stroke-linejoin="round"/>
<path d="M850.70 269.80L850.70 198.50A160.5 160.5 0 0 1 860.22 198.78L855.99 269.96A89.2 89.2 0 0 0 850.70 269.80Z" fill="#d9eef1" stroke="rgba(255,255,255,0.38)" stroke-width="0.6" stroke-linejoin="round"/>
<path d="M855.99 269.96L860.22 198.78A160.5 160.5 0 0 1 886.80 202.61L870.77 272.09A89.2 89.2 0 0 0 855.99 269.96Z" fill="#c3e4e9" stroke="rgba(255,255,255,0.38)" stroke-width="0.6" stroke-linejoin="round"/>
<path d="M870.77 272.09L886.80 202.61A160.5 160.5 0 0 1 912.12 210.72L884.84 276.59A89.2 89.2 0 0 0 870.77 272.09Z" fill="#c3e4e9" stroke="rgba(255,255,255,0.38)" stroke-width="0.6" stroke-linejoin="round"/>
<path d="M884.84 276.59L912.12 210.72A160.5 160.5 0 0 1 986.06 272.76L925.93 311.07A89.2 89.2 0 0 0 884.84 276.59Z" fill="#2593a0" stroke="rgba(255,255,255,0.38)" stroke-width="0.6" stroke-linejoin="round"/>
<path d="M925.93 311.07L986.06 272.76A160.5 160.5 0 0 1 990.25 279.72L928.26 314.94A89.2 89.2 0 0 0 925.93 311.07Z" fill="#d6eef1" stroke="rgba(255,255,255,0.38)" stroke-width="0.6" stroke-linejoin="round"/>
<path d="M928.26 314.94L990.25 279.72A160.5 160.5 0 0 1 1008.03 327.28L938.14 341.37A89.2 89.2 0 0 0 928.26 314.94Z" fill="#a6d6dc" stroke="rgba(255,255,255,0.38)" stroke-width="0.6" stroke-linejoin="round"/>
<path d="M938.14 341.37L1008.03 327.28A160.5 160.5 0 0 1 995.56 428.10L931.21 397.40A89.2 89.2 0 0 0 938.14 341.37Z" fill="#70bac6" stroke="rgba(255,255,255,0.38)" stroke-width="0.6" stroke-linejoin="round"/>
<path d="M931.21 397.40L995.56 428.10A160.5 160.5 0 0 1 989.27 439.98L927.71 404.00A89.2 89.2 0 0 0 931.21 397.40Z" fill="#d6eef1" stroke="rgba(255,255,255,0.38)" stroke-width="0.6" stroke-linejoin="round"/>
<path d="M927.71 404.00L989.27 439.98A160.5 160.5 0 0 1 861.90 519.11L856.92 447.98A89.2 89.2 0 0 0 927.71 404.00Z" fill="#2593a0" stroke="rgba(255,255,255,0.38)" stroke-width="0.6" stroke-linejoin="round"/>
<path d="M856.92 447.98L861.90 519.11A160.5 160.5 0 0 1 815.96 515.70L831.39 446.09A89.2 89.2 0 0 0 856.92 447.98Z" fill="#b4dde3" stroke="rgba(255,255,255,0.38)" stroke-width="0.6" stroke-linejoin="round"/>
<path d="M831.39 446.09L815.96 515.70A160.5 160.5 0 0 1 751.23 484.96L795.42 429.00A89.2 89.2 0 0 0 831.39 446.09Z" fill="#a2d3da" stroke="rgba(255,255,255,0.38)" stroke-width="0.6" stroke-linejoin="round"/>
<path d="M795.42 429.00L751.23 484.96A160.5 160.5 0 0 1 690.20 359.00L761.50 359.00A89.2 89.2 0 0 0 795.42 429.00Z" fill="#2898a5" stroke="rgba(255,255,255,0.38)" stroke-width="0.6" stroke-linejoin="round"/>
<path d="M761.50 359.00L690.20 359.00A160.5 160.5 0 0 1 705.24 291.17L769.86 321.30A89.2 89.2 0 0 0 761.50 359.00Z" fill="#a8d7dd" stroke="rgba(255,255,255,0.38)" stroke-width="0.6" stroke-linejoin="round"/>
<path d="M769.86 321.30L705.24 291.17A160.5 160.5 0 0 1 779.59 215.11L811.18 279.03A89.2 89.2 0 0 0 769.86 321.30Z" fill="#6bb8c4" stroke="rgba(255,255,255,0.38)" stroke-width="0.6" stroke-linejoin="round"/>
<path d="M811.18 279.03L779.59 215.11A160.5 160.5 0 0 1 850.70 198.50L850.70 269.80A89.2 89.2 0 0 0 811.18 279.03Z" fill="#a2d3da" stroke="rgba(255,255,255,0.38)" stroke-width="0.6" stroke-linejoin="round"/>
<line x1="850.70" y1="269.80" x2="850.70" y2="198.50" stroke="#fff" stroke-width="1.2"/>
<line x1="831.39" y1="446.09" x2="815.96" y2="515.70" stroke="#fff" stroke-width="1.2"/>
<line x1="761.50" y1="359.00" x2="690.20" y2="359.00" stroke="#fff" stroke-width="1.2"/>
<circle cx="850.7" cy="359.0" r="18.0" fill="#fff"/>
</svg>
<span class="t" style="left:865.73px;transform-origin:50% 50%;top:317px;font-size:8.2px;line-height:9px;color:#fff;transform:scaleX(0.9467);-webkit-text-stroke:0.32px #fff;">HARDWARE</span>
<span class="t" style="left:876.89px;transform-origin:50% 50%;top:361px;font-size:8.2px;line-height:9px;color:#0c2c40;transform:scaleX(0.9684);-webkit-text-stroke:0.32px #0c2c40;">MAINTENANC</span>
<span class="t" style="left:850.77px;transform-origin:50% 50%;top:403px;font-size:8.2px;line-height:9px;color:#fff;transform:scaleX(0.9254);-webkit-text-stroke:0.32px #fff;">PRODUCTN</span>
<span class="t" style="left:787.84px;transform-origin:50% 50%;top:388px;font-size:8.2px;line-height:9px;color:#fff;transform:scaleX(0.8833);-webkit-text-stroke:0.32px #fff;">SERVICES</span>
<span class="t" style="left:785.15px;transform-origin:50% 50%;top:326px;font-size:8.2px;line-height:9px;color:#0c2c40;transform:scaleX(0.8976);-webkit-text-stroke:0.32px #0c2c40;">SUPPLIES</span>
<span class="t" style="left:830.54px;transform-origin:50% 50%;top:302px;font-size:8.2px;line-height:9px;color:#0c2c40;transform:scaleX(0.9241);-webkit-text-stroke:0.32px #0c2c40;">TE...</span>
<span class="t" style="left:862.35px;transform-origin:50% 50%;top:231px;font-size:8.2px;line-height:9px;color:#0c2c40;transform:scaleX(0.9346);-webkit-text-stroke:0.32px #0c2c40;">S...</span>
<span class="t" style="left:882.62px;transform-origin:50% 50%;top:236px;font-size:8.2px;line-height:9px;color:#0c2c40;transform:scaleX(0.9798);-webkit-text-stroke:0.32px #0c2c40;">D...</span>
<span class="t" style="left:912.16px;transform-origin:50% 50%;top:258px;font-size:8.2px;line-height:9px;color:#0c2c40;transform:scaleX(0.9289);-webkit-text-stroke:0.32px #0c2c40;">LAPTOPS</span>
<span class="t" style="left:941.72px;transform-origin:50% 50%;top:310px;font-size:8.2px;line-height:9px;color:#0c2c40;transform:scaleX(0.9047);-webkit-text-stroke:0.32px #0c2c40;">PERIPHERAL</span>
<span class="t" style="left:948.35px;transform-origin:50% 50%;top:370px;font-size:8.2px;line-height:9px;color:#0c2c40;transform:scaleX(0.9098);-webkit-text-stroke:0.32px #0c2c40;">OUTSIDESVC</span>
<span class="t" style="left:895.13px;transform-origin:50% 50%;top:461px;font-size:8.2px;line-height:9px;color:#0c2c40;transform:scaleX(0.9260);-webkit-text-stroke:0.32px #0c2c40;">FINGOODS</span>
<span class="t" style="left:827.88px;transform-origin:50% 50%;top:480px;font-size:8.2px;line-height:9px;color:#0c2c40;transform:scaleX(1.0267);-webkit-text-stroke:0.32px #0c2c40;">MONI...</span>
<span class="t" style="left:783.78px;transform-origin:50% 50%;top:467px;font-size:8.2px;line-height:9px;color:#0c2c40;transform:scaleX(0.9456);-webkit-text-stroke:0.32px #0c2c40;">LEGAL</span>
<span class="t" style="left:718.68px;transform-origin:50% 50%;top:409px;font-size:8.2px;line-height:9px;color:#0c2c40;transform:scaleX(0.8880);-webkit-text-stroke:0.32px #0c2c40;">TEMPSEC</span>
<span class="t" style="left:706.85px;transform-origin:50% 50%;top:327px;font-size:8.2px;line-height:9px;color:#0c2c40;transform:scaleX(0.9240);-webkit-text-stroke:0.32px #0c2c40;">FACILITIES</span>
<span class="t" style="left:745.67px;transform-origin:50% 50%;top:266px;font-size:8.2px;line-height:9px;color:#0c2c40;transform:scaleX(0.8980);-webkit-text-stroke:0.32px #0c2c40;">OFFICE</span>
<span class="t" style="left:801.08px;transform-origin:50% 50%;top:232px;font-size:8.2px;line-height:9px;color:#0c2c40;transform:scaleX(0.9106);-webkit-text-stroke:0.32px #0c2c40;">ENGINEER</span>
<span class="t" style="left:770.40px;transform-origin:0 50%;top:530px;font-size:7.8px;line-height:9px;color:#7f7b77;transform:scaleX(1.1054);">Off-Contract</span>
<span class="t" style="left:829.30px;transform-origin:0 50%;top:530px;font-size:7.8px;line-height:9px;color:#2b2927;transform:scaleX(1.0062);">2K</span>
<div class="abs" style="left:843.8px;top:532.2px;width:66px;height:6.2px;background:linear-gradient(90deg,#c9eff0 0%,#8fd0d6 30%,#3fa3ae 62%,#17656f 85%,#0e4c55 100%);"></div>
<span class="t" style="left:914.70px;transform-origin:0 50%;top:530px;font-size:7.8px;line-height:9px;color:#2b2927;transform:scaleX(1.0545);">15M</span>
<span class="t" style="left:770.40px;transform-origin:0 50%;top:548px;font-size:7.8px;line-height:9px;color:#7f7b77;">Spend</span>
<span class="t" style="left:805.00px;transform-origin:0 50%;top:548px;font-size:7.8px;line-height:9px;color:#2b2927;transform:scaleX(1.0087);">28K</span>
<svg style="left:0;top:0" width="1056" height="594" viewBox="0 0 1056 594">
<path d="M825 553H827.4M825 554.8H827.4" stroke="#555" stroke-width="0.8"/>
<path d="M828.9 553L886 547V555.5H828.9Z" fill="#4a4a4a"/>
<path d="M888.7 546.8V555.4M887.6 546.8H889.8M887.6 555.4H889.8" stroke="#4a4a4a" stroke-width="0.8" fill="none"/>
</svg>
<span class="t" style="left:895.00px;transform-origin:0 50%;top:548px;font-size:7.8px;line-height:9px;color:#2b2927;transform:scaleX(1.0545);">81M</span>
<div class="abs" style="left:0;top:570.6px;width:1056px;height:1px;background:#eeecea;"></div>
<span class="t" style="left:7.40px;transform-origin:0 50%;top:579px;font-size:8px;line-height:9px;color:#161513;font-weight:700;transform:scaleX(1.0174);">Overview</span>
<div class="abs" style="left:0;top:592.5px;width:51px;height:1.5px;background:#5b8a47;"></div>
<span class="t" style="left:58.60px;transform-origin:0 50%;top:579px;font-size:8px;line-height:9px;color:#3a3632;transform:scaleX(1.0824);">Off-Contract</span>
<span class="t" style="left:120.90px;transform-origin:0 50%;top:579px;font-size:8px;line-height:9px;color:#3a3632;transform:scaleX(1.0409);">Category Item</span>
<span class="t" style="left:188.60px;transform-origin:0 50%;top:579px;font-size:8px;line-height:9px;color:#3a3632;transform:scaleX(1.0110);">Invoice Details</span>
<span class="t" style="left:256.60px;transform-origin:0 50%;top:579px;font-size:8px;line-height:9px;color:#3a3632;transform:scaleX(1.0219);">Corporate Social Responsibility</span>
<svg style="left:382.7px;top:578.7px" width="10" height="10" viewBox="0 0 10 10"><circle cx="5" cy="5" r="3.95" fill="none" stroke="#2b2927" stroke-width="0.95"/><path d="M5 3V7M3 5H7" stroke="#2b2927" stroke-width="1"/></svg>
<svg style="left:977.6px;top:579.6px" width="9" height="10" viewBox="0 0 9 10"><path d="M0.9 0.8H8.1V5.6L4.5 9L0.9 5.6Z" fill="none" stroke="#7a9a3a" stroke-width="1.1" stroke-linejoin="round"/><path d="M3.4 4.8H5.6" stroke="#7a9a3a" stroke-width="0.8"/></svg>
<svg style="left:994.6px;top:579.4px" width="10" height="10" viewBox="0 0 10 10"><path d="M6.4 0.8L1.4 5.4H4.8L3.4 9.2L8.8 4.4H5.4Z" fill="none" stroke="#7a9a3a" stroke-width="1" stroke-linejoin="round"/></svg>
<div class="abs" style="left:1012px;top:576.4px;width:1px;height:12px;background:#e6e3e0;"></div>
<svg style="left:1019.8px;top:579px" width="10.6" height="10.4" viewBox="0 0 10.6 10.4"><rect x="0.7" y="0.7" width="9.2" height="9" fill="none" stroke="#161513" stroke-width="1.3"/><rect x="0.7" y="0.7" width="3" height="9" fill="#161513"/></svg>
<svg style="left:1036.6px;top:579px" width="10.8" height="10.4" viewBox="0 0 10.8 10.4"><rect x="0.7" y="0.7" width="9.4" height="9" fill="none" stroke="#161513" stroke-width="1.3"/><rect x="4" y="2.5" width="1.6" height="5.4" fill="#161513"/></svg>
</div>
</body></html>
